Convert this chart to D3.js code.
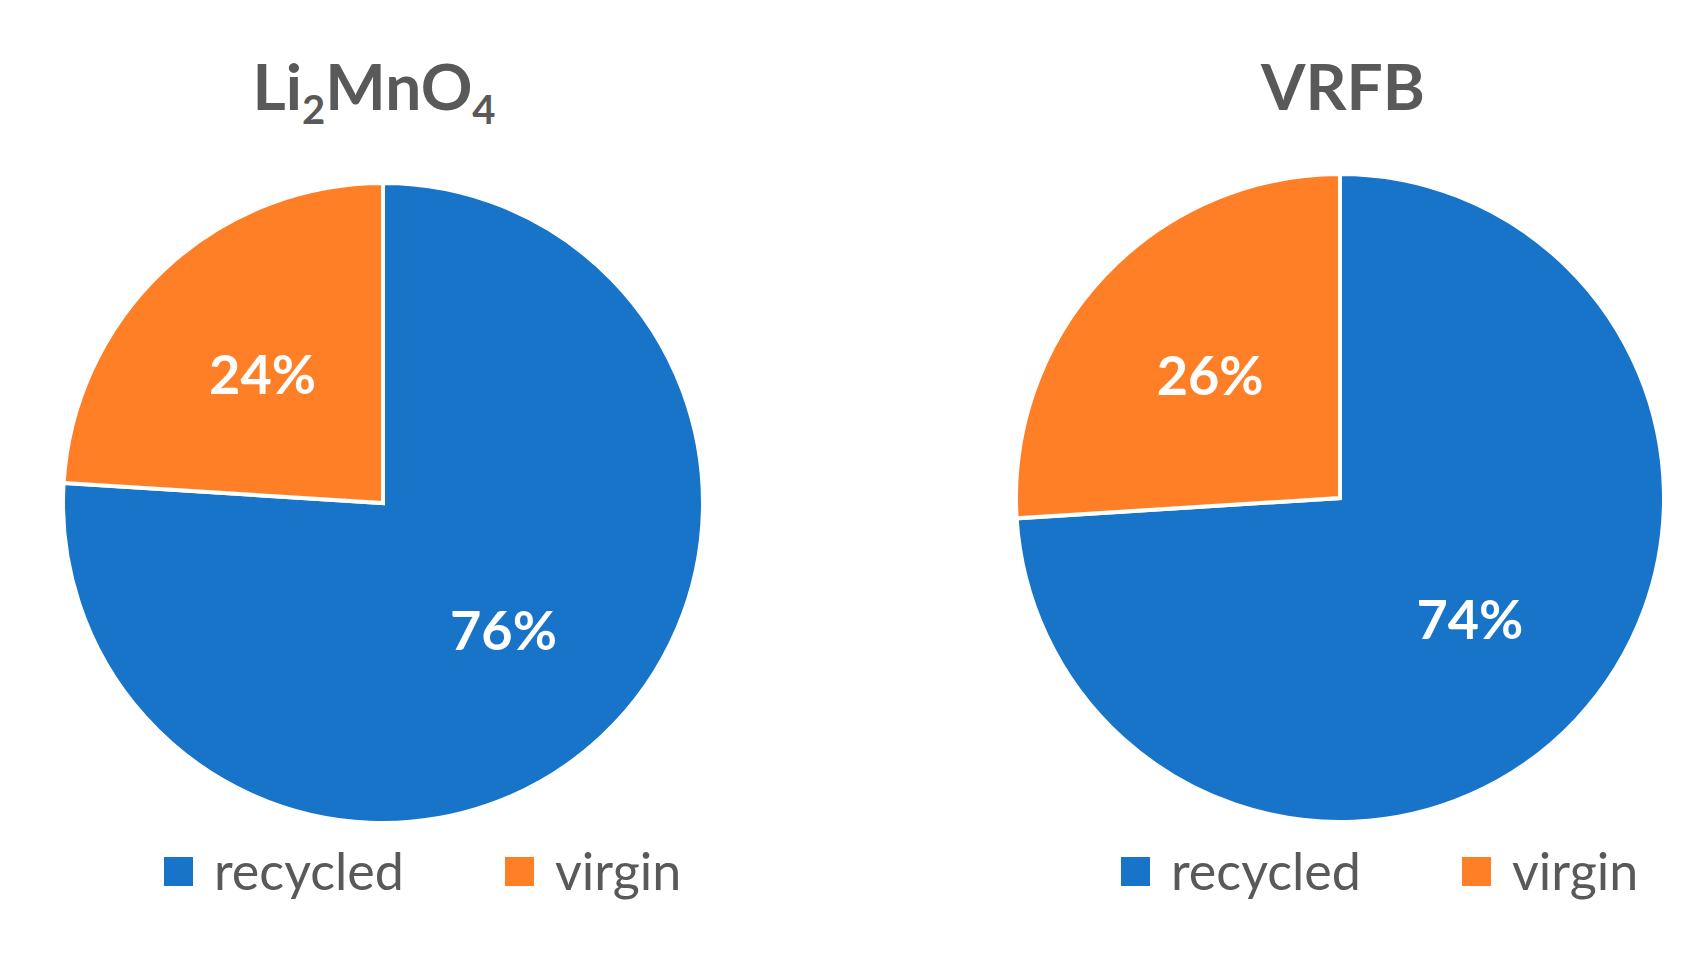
<!DOCTYPE html>
<html><head><meta charset="utf-8">
<script src="https://cdn.jsdelivr.net/npm/d3@7"></script>
<style>body{margin:0;background:#fff}</style></head>
<body><svg id="c" width="1706" height="960"></svg>
<script>
const categories = ["recycled", "virgin"];
const colors = ["#1874C8", "#FF7F27"];
const liValues = [76, 24];
const vrfbValues = [74, 26];
const charts = [
  {title: "Li", values: liValues, cx: 383, cy: 503, r: 320, tx: 374, lx: 164},
  {title: "VRFB", values: vrfbValues, cx: 1340, cy: 498, r: 324, tx: 1343, lx: 1121}
];
const svg = d3.select("#c");
const font = "Lato, 'Open Sans', sans-serif";
const pie = d3.pie().sort(null).value(d => d);
const color = d3.scaleOrdinal().domain(categories).range(colors);
charts.forEach((c, ci) => {
  const g = svg.append("g").attr("transform", `translate(${c.cx},${c.cy})`);
  const arc = d3.arc().innerRadius(0).outerRadius(c.r);
  const arcs = pie(c.values);
  g.selectAll("path").data(arcs).enter().append("path")
    .attr("d", arc).attr("fill", (d, i) => color(categories[i]))
    .attr("stroke", "#fff").attr("stroke-width", 4);
  const labelArc = d3.arc().innerRadius(c.r * 0.55).outerRadius(c.r * 0.55);
  g.selectAll("text").data(arcs).enter().append("text")
    .attr("transform", d => { const p = labelArc.centroid(d); return `translate(${p[0]},${p[1]})`; })
    .attr("text-anchor", "middle").attr("dy", "0.35em")
    .attr("fill", "#fff").attr("font-family", font).attr("font-weight", "bold").attr("font-size", 54)
    .text(d => d.data + "%");
  // title
  const t = svg.append("text").attr("x", c.tx).attr("y", 110).attr("text-anchor", "middle")
    .attr("fill", "#595959").attr("font-family", font).attr("font-weight", "bold").attr("font-size", 64);
  if (ci === 0) {
    t.append("tspan").text("Li");
    t.append("tspan").attr("font-size", 40).attr("dy", 14).text("2");
    t.append("tspan").attr("dy", -14).text("MnO");
    t.append("tspan").attr("font-size", 40).attr("dy", 14).text("4");
  } else t.text(c.title);
  // legend
  const lg = svg.append("g").attr("transform", `translate(${c.lx},872)`);
  const offs = [0, 341];
  categories.forEach((cat, i) => {
    lg.append("rect").attr("x", offs[i]).attr("y", -15).attr("width", 29).attr("height", 29).attr("fill", colors[i]);
    lg.append("text").attr("x", offs[i] + 50).attr("y", 0).attr("dy", "0.35em")
      .attr("fill", "#595959").attr("font-family", font).attr("font-size", 52).text(cat);
  });
});
</script></body></html>
